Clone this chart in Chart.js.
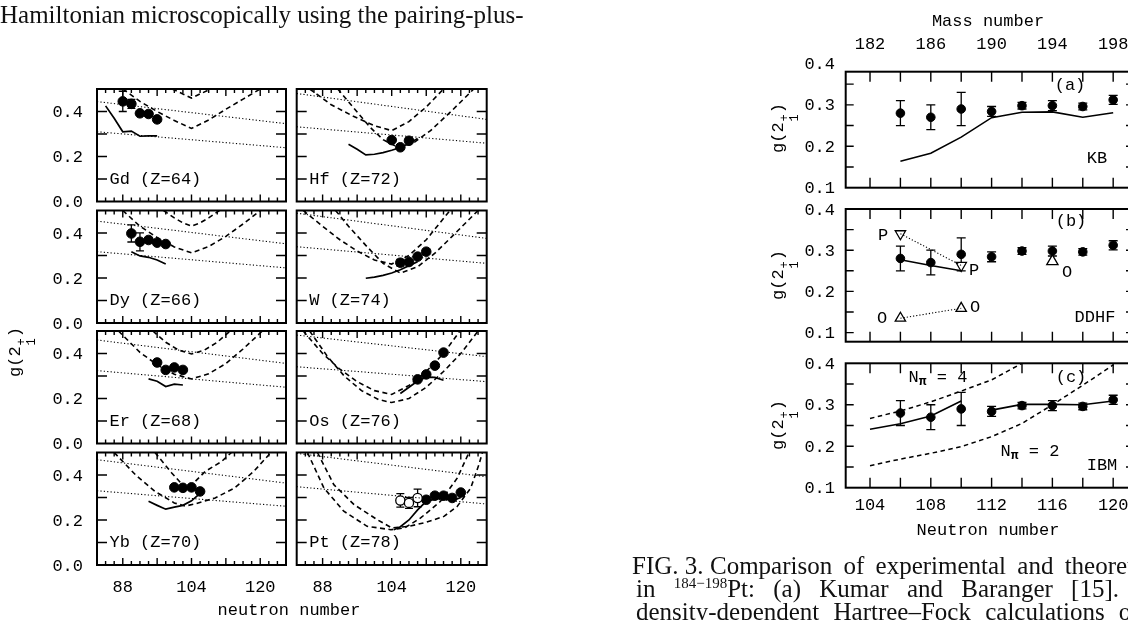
<!DOCTYPE html>
<html><head><meta charset="utf-8">
<script src="https://cdn.jsdelivr.net/npm/chart.js@4.4.1/dist/chart.umd.min.js"></script>
<style>
html,body{margin:0;padding:0;background:#fff;width:1128px;height:620px;overflow:hidden;position:relative}
canvas{position:absolute;left:0;top:0}
.t{position:absolute;font-family:"Liberation Mono",monospace;font-size:17px;color:#000;white-space:nowrap;line-height:17px;z-index:3}
.c{transform:translate(-50%,-50%)}
.ytl{transform:translate(-50%,-50%) rotate(-90deg)}
.ss{display:inline-flex;flex-direction:column;font-size:12px;line-height:10px;vertical-align:-5px;margin:0 1px}
.sf{position:absolute;font-family:"Liberation Serif","Times New Roman",serif;color:#111;white-space:nowrap;z-index:3;font-size:25px;line-height:25px}
sup.m{font-size:15px;vertical-align:9px;line-height:0}
</style></head><body>
<script>
const CW = 1160, CH = 620;

/* ---------- left figure: g(2+) vs neutron number, x 82..126, y 0..0.5 ---------- */
const leftXTicks = [84,86,88,90,92,94,96,98,100,102,104,106,108,110,112,114,116,118,120,122,124];
const leftXMajor = [88,96,104,112,120];
const leftXLabels = [88,104,120];
const leftYTicks = [0.1,0.2,0.3,0.4];
const leftYMajor = [0.2,0.4];
const leftYLabels = [0.0,0.2,0.4];

// Gd (Z=64)
const gdExpN = [88,90,92,94,96];
const gdExpG = [0.445,0.434,0.392,0.389,0.365];
const gdExpErr = [0.045,0.02,0,0,0.01];
const gdSolid = [[84,0.425],[86,0.37],[88,0.31],[90,0.313],[92,0.29],[94,0.292],[96,0.292]];
const gdDashA = [[88,0.5],[92,0.445],[96,0.4],[100,0.36],[104,0.325],[108,0.362],[112,0.41],[116,0.455],[120,0.5]];
const gdDashB = [[99.5,0.5],[102,0.478],[104,0.46],[106,0.478],[108.5,0.5]];
const gdDotU = [[82,0.444],[126,0.346]];
const gdDotL = [[82,0.31],[126,0.239]];
// Dy (Z=66)
const dyExpN = [90,92,94,96,98];
const dyExpG = [0.398,0.361,0.369,0.357,0.351];
const dyExpErr = [0.038,0.04,0,0,0];
const dySolid = [[90,0.317],[92,0.298],[94,0.292],[96,0.28],[98,0.262]];
const dyDashA = [[88,0.5],[92,0.43],[96,0.38],[100,0.338],[104,0.312],[108,0.34],[112,0.385],[116,0.44],[120,0.5]];
const dyDashB = [[97.5,0.5],[100,0.467],[102,0.445],[104,0.431],[106,0.445],[108,0.467],[110.5,0.5]];
const dyDotU = [[82,0.453],[126,0.352]];
const dyDotL = [[82,0.317],[126,0.245]];
// Er (Z=68)
const erExpN = [96,98,100,102];
const erExpG = [0.36,0.327,0.338,0.327];
const erExpErr = [0,0,0,0];
const erSolid = [[94,0.287],[96,0.277],[98,0.253],[100,0.264],[102,0.26]];
const erDashA = [[87,0.5],[92,0.405],[96,0.35],[100,0.308],[104,0.287],[108,0.31],[112,0.355],[116,0.42],[120.5,0.5]];
const erDashB = [[95,0.5],[98,0.45],[101,0.415],[104,0.398],[107,0.415],[110,0.45],[113,0.5]];
const erDotU = [[82,0.46],[126,0.356]];
const erDotL = [[82,0.324],[126,0.25]];
// Yb (Z=70)
const ybExpN = [100,102,104,106];
const ybExpG = [0.345,0.343,0.345,0.327];
const ybExpErr = [0,0,0,0];
const ybSolid = [[94,0.283],[96,0.265],[98,0.248],[100,0.257],[102,0.265],[104,0.285],[106,0.318]];
const ybDashA = [[86,0.5],[91,0.4],[95.5,0.327],[100,0.276],[102.5,0.262],[105,0.272],[109.5,0.298],[114,0.342],[118.5,0.416],[122.5,0.5]];
const ybDashB = [[95.5,0.5],[99.4,0.409],[101.5,0.365],[103,0.34],[104.8,0.37],[107.2,0.416],[111,0.46],[113.3,0.5]];
const ybDotU = [[82,0.468],[126,0.364]];
const ybDotL = [[82,0.33],[126,0.261]];
// Hf (Z=72)
const hfExpN = [104,106,108];
const hfExpG = [0.273,0.241,0.27];
const hfExpErr = [0,0,0];
const hfSolid = [[94,0.254],[96,0.232],[98,0.207],[100,0.21],[102,0.217],[104,0.228],[106,0.24],[108,0.258],[110,0.28]];
const hfDashA = [[85,0.5],[90,0.43],[95,0.38],[100,0.337],[104,0.315],[108,0.355],[112,0.42],[116,0.5]];
const hfDashB = [[91.5,0.5],[95,0.42],[99,0.33],[102,0.275],[105.5,0.24],[109,0.26],[113,0.315],[118,0.405],[123,0.5]];
const hfDotU = [[82,0.48],[126,0.365]];
const hfDotL = [[82,0.332],[126,0.259]];
// W (Z=74)
const wExpN = [106,108,110,112];
const wExpG = [0.268,0.271,0.295,0.317];
const wExpErr = [0.015,0.01,0,0];
const wSolid = [[98,0.199],[100,0.204],[102,0.212],[104,0.222],[106,0.237],[108,0.255],[110,0.272]];
const wDashA = [[83.5,0.5],[88,0.43],[92,0.37],[96,0.32],[100,0.28],[104,0.262],[108,0.3],[112,0.37],[117.5,0.5]];
const wDashB = [[91,0.5],[94,0.43],[98,0.345],[102,0.265],[106,0.222],[110,0.25],[114,0.31],[118,0.385],[124,0.5]];
const wDotU = [[82,0.488],[126,0.376]];
const wDotL = [[82,0.339],[126,0.265]];
// Os (Z=76)
const osExpN = [110,112,114,116];
const osExpG = [0.285,0.307,0.346,0.404];
const osExpErr = [0,0,0,0];
const osSolid = [[106,0.222],[108,0.25],[110,0.278],[112,0.295],[114,0.294],[116,0.281]];
const osDashA = [[83.5,0.5],[88,0.4],[92,0.33],[96,0.275],[100,0.235],[104,0.218],[108,0.258],[112,0.32],[116,0.4],[119.8,0.5]];
const osDashB = [[85,0.5],[89,0.39],[93,0.3],[97,0.235],[101,0.195],[104,0.182],[108,0.2],[112,0.25],[116,0.32],[120,0.4],[124,0.5]];
const osDotU = [[82,0.482],[126,0.386]];
const osDotL = [[82,0.341],[126,0.275]];
// Pt (Z=78)
const ptOpenN = [106,108,110];
const ptOpenG = [0.287,0.276,0.298];
const ptOpenErr = [0.03,0.024,0.039];
const ptExpN = [112,114,116,118,120];
const ptExpG = [0.29,0.308,0.308,0.298,0.322];
const ptExpErr = [0,0,0,0,0];
const ptSolid = [[104.5,0.157],[106,0.17],[108,0.2],[110,0.245],[112,0.283],[114,0.293],[116,0.297],[118,0.285],[120,0.3]];
const ptDashA = [[84.5,0.5],[88.3,0.342],[92.9,0.239],[98.3,0.172],[103.8,0.157],[107,0.165],[110.7,0.209],[115.3,0.283],[119.2,0.387],[121.9,0.5]];
const ptDashB = [[86.8,0.5],[90.6,0.357],[95.3,0.268],[100.7,0.201],[104,0.165],[108,0.172],[112,0.19],[116.1,0.216],[119.2,0.261],[122.3,0.342],[124.2,0.446],[125,0.5]];
const ptDotU = [[82,0.496],[126,0.392]];
const ptDotL = [[82,0.348],[126,0.271]];

/* ---------- right figure: 184-198Pt, x = neutron number ---------- */
const rightXTicks = [104,106,108,110,112,114,116,118,120];
const rightXLabels = [104,108,112,116,120];
const massLabels = [182,186,190,194,198];
const rightYTicks = [0.1,0.15,0.2,0.25,0.3,0.35,0.4];
const rightYLabels = [0.1,0.2,0.3,0.4];
const expN = [106,108,110,112,114,116,118,120];
const expG = [0.28,0.27,0.29,0.284,0.298,0.298,0.296,0.312];
const expErr = [0.03,0.03,0.04,0.012,0.008,0.012,0.008,0.011];
const kbG = [0.164,0.183,0.222,0.269,0.282,0.283,0.27,0.281];
const ddhfN = [106,108,110];
const ddhfG = [0.277,0.263,0.25];
const ddhfPN = [106,110];
const ddhfPG = [0.34,0.263];
const ddhfON = [106,110];
const ddhfOG = [0.135,0.159];
const ddhfO2N = [116];
const ddhfO2G = [0.273];
const ibmN1 = [104,106,108,110];
const ibmG1 = [0.241,0.254,0.273,0.309];
const ibmN2 = [112,114,116,118,120];
const ibmG2 = [0.287,0.301,0.301,0.3,0.309];
const np4N = [104,106,108,110,112,114];
const np4G = [0.267,0.285,0.307,0.333,0.36,0.4];
const np2N = [104,106,108,110,112,114,116,118,120];
const np2G = [0.153,0.169,0.183,0.199,0.223,0.255,0.3,0.347,0.396];

/* ---------- helpers ---------- */
const frameCfg = new Map();
const zip = (ns, gs) => ns.map((n, i) => ({x: n, y: gs[i]}));
const pairs = pts => pts.map(p => ({x: p[0], y: p[1]}));
function lineDs(data, dash, w) {
  return {data, borderColor:'#000', borderWidth:w, borderDash:dash, pointRadius:0, fill:false, tension:0, showLine:true};
}
function dotDs(data, errs, open, r, style, rot) {
  return {data, errs, showLine:false, pointRadius:r, pointStyle:style || 'circle', rotation:rot || 0,
    backgroundColor: open ? '#fff' : '#000', borderColor:'#000', borderWidth: open ? 1.3 : 1};
}

const framePlugin = {
  id: 'frame',
  beforeDatasetsDraw(chart) {
    const o = frameCfg.get(chart.canvas.id); if (!o) return;
    const {ctx, scales:{x, y}} = chart;
    ctx.save(); ctx.strokeStyle = '#000'; ctx.lineWidth = 1.3;
    chart.data.datasets.forEach(ds => {
      if (!ds.errs) return;
      ds.data.forEach((p, i) => {
        const e = ds.errs[i]; if (!e) return;
        const px = x.getPixelForValue(p.x), y1 = y.getPixelForValue(p.y - e), y2 = y.getPixelForValue(p.y + e);
        ctx.beginPath();
        ctx.moveTo(px, y1); ctx.lineTo(px, y2);
        ctx.moveTo(px - o.cap, y1); ctx.lineTo(px + o.cap, y1);
        ctx.moveTo(px - o.cap, y2); ctx.lineTo(px + o.cap, y2);
        ctx.stroke();
      });
    });
    ctx.restore();
  },
  afterDatasetsDraw(chart) {
    const o = frameCfg.get(chart.canvas.id); if (!o) return;
    const {ctx, chartArea:a, scales:{x, y}} = chart;
    ctx.save();
    ctx.strokeStyle = '#000'; ctx.lineWidth = 1.4;
    ctx.beginPath();
    o.xTicks.forEach(v => {
      if (v <= x.min || v >= x.max) return;
      const px = x.getPixelForValue(v);
      const len = o.xMajor && o.xMajor.includes(v) ? o.xMajorLen : o.xMinorLen;
      ctx.moveTo(px, a.top); ctx.lineTo(px, a.top + len);
      ctx.moveTo(px, a.bottom); ctx.lineTo(px, a.bottom - len);
    });
    o.yTicks.forEach(v => {
      if (v <= y.min + 1e-9 || v >= y.max - 1e-9) return;
      const py = y.getPixelForValue(v);
      const len = o.yMajor && o.yMajor.includes(v) ? o.yMajorLen : o.yMinorLen;
      ctx.moveTo(a.left, py); ctx.lineTo(a.left + len, py);
      ctx.moveTo(a.right, py); ctx.lineTo(a.right - len, py);
    });
    ctx.stroke();
    ctx.lineWidth = 2;
    ctx.strokeRect(a.left, a.top, a.right - a.left, a.bottom - a.top);
    ctx.fillStyle = '#000';
    ctx.font = "17px 'Liberation Mono', monospace";
    if (o.yLabels) {
      ctx.textAlign = 'right'; ctx.textBaseline = 'middle';
      o.yLabels.forEach(v => ctx.fillText(v.toFixed(1), a.left - o.yGap, y.getPixelForValue(v) + 1));
    }
    if (o.xLabels) {
      ctx.textAlign = 'center'; ctx.textBaseline = 'middle';
      o.xLabels.forEach(v => ctx.fillText(String(v), x.getPixelForValue(v), a.bottom + o.xGap));
    }
    if (o.topLabels) {
      ctx.textAlign = 'center'; ctx.textBaseline = 'middle';
      o.topAt.forEach((v, i) => ctx.fillText(String(o.topLabels[i]), x.getPixelForValue(v), a.top - o.topGap));
    }
    ctx.restore();
  }
};

function makeChart(id, rect, xr, yr, datasets, frame) {
  const c = document.createElement('canvas');
  c.id = id; c.width = CW; c.height = CH;
  c.style.width = CW + 'px'; c.style.height = CH + 'px';
  document.body.appendChild(c);
  frameCfg.set(id, frame);
  return new Chart(c, {
    type: 'line',
    data: {datasets},
    options: {
      responsive: false, animation: false, events: [], devicePixelRatio: 1,
      layout: {padding: {left: rect.l, top: rect.t, right: CW - rect.r, bottom: CH - rect.b}},
      scales: {
        x: {type: 'linear', min: xr[0], max: xr[1], display: false},
        y: {type: 'linear', min: yr[0], max: yr[1], display: false}
      },
      plugins: {legend: {display: false}, tooltip: {enabled: false}}
    },
    plugins: [framePlugin]
  });
}

/* ---------- left figure panels ---------- */
const leftCols = [{l: 97, r: 286}, {l: 296.7, r: 486.7}];
const leftRows = [{t: 89, b: 201.5}, {t: 210.5, b: 323}, {t: 331, b: 443.5}, {t: 452.5, b: 565}];
const leftPanels = [
  {name: 'Gd (Z=64)', col: 0, row: 0, expN: gdExpN, expG: gdExpG, expErr: gdExpErr, solid: gdSolid, dashA: gdDashA, dashB: gdDashB, dotU: gdDotU, dotL: gdDotL},
  {name: 'Dy (Z=66)', col: 0, row: 1, expN: dyExpN, expG: dyExpG, expErr: dyExpErr, solid: dySolid, dashA: dyDashA, dashB: dyDashB, dotU: dyDotU, dotL: dyDotL},
  {name: 'Er (Z=68)', col: 0, row: 2, expN: erExpN, expG: erExpG, expErr: erExpErr, solid: erSolid, dashA: erDashA, dashB: erDashB, dotU: erDotU, dotL: erDotL},
  {name: 'Yb (Z=70)', col: 0, row: 3, expN: ybExpN, expG: ybExpG, expErr: ybExpErr, solid: ybSolid, dashA: ybDashA, dashB: ybDashB, dotU: ybDotU, dotL: ybDotL},
  {name: 'Hf (Z=72)', col: 1, row: 0, expN: hfExpN, expG: hfExpG, expErr: hfExpErr, solid: hfSolid, dashA: hfDashA, dashB: hfDashB, dotU: hfDotU, dotL: hfDotL},
  {name: 'W (Z=74)', col: 1, row: 1, expN: wExpN, expG: wExpG, expErr: wExpErr, solid: wSolid, dashA: wDashA, dashB: wDashB, dotU: wDotU, dotL: wDotL},
  {name: 'Os (Z=76)', col: 1, row: 2, expN: osExpN, expG: osExpG, expErr: osExpErr, solid: osSolid, dashA: osDashA, dashB: osDashB, dotU: osDotU, dotL: osDotL},
  {name: 'Pt (Z=78)', col: 1, row: 3, expN: ptExpN, expG: ptExpG, expErr: ptExpErr, solid: ptSolid, dashA: ptDashA, dashB: ptDashB, dotU: ptDotU, dotL: ptDotL,
   openN: ptOpenN, openG: ptOpenG, openErr: ptOpenErr}
];
const labelDivs = [];
leftPanels.forEach((p, i) => {
  const rect = {l: leftCols[p.col].l, r: leftCols[p.col].r, t: leftRows[p.row].t, b: leftRows[p.row].b};
  const ds = [
    lineDs(pairs(p.dotU), [1.2, 2.2], 1.1),
    lineDs(pairs(p.dotL), [1.2, 2.2], 1.1),
    lineDs(pairs(p.dashA), [5, 3.5], 1.6),
    lineDs(pairs(p.dashB), [5, 3.5], 1.6),
    lineDs(pairs(p.solid), [], 1.7)
  ];
  if (p.openN) ds.push(dotDs(zip(p.openN, p.openG), p.openErr, true, 4.6));
  ds.push(dotDs(zip(p.expN, p.expG), p.expErr, false, 4.8));
  makeChart('L' + i, rect, [82, 126], [0, 0.5], ds, {
    xTicks: leftXTicks, xMajor: leftXMajor, xMajorLen: 7, xMinorLen: 4,
    yTicks: leftYTicks, yMajor: leftYMajor, yMajorLen: 10, yMinorLen: 10,
    yLabels: p.col === 0 ? leftYLabels : null, yGap: 14,
    xLabels: p.row === 3 ? leftXLabels : null, xGap: 22, cap: 4
  });
  labelDivs.push(`<div class="t" style="left:${rect.l + 12.5}px;top:${rect.b - 31}px">${p.name}</div>`);
});

/* ---------- right figure panels ---------- */
const rX = [102.4, 121.37];
const rL = 845.7, rR = 1134;
const expDs = () => dotDs(zip(expN, expG), expErr, false, 4.3);
const rightFrame = extra => Object.assign({
  xTicks: rightXTicks, xMajor: null, xMajorLen: 10, xMinorLen: 10,
  yTicks: rightYTicks, yMajor: null, yMajorLen: 8, yMinorLen: 8,
  yLabels: rightYLabels, yGap: 10.7, cap: 4.5
}, extra);
makeChart('Ra', {l: rL, r: rR, t: 71.7, b: 187.7}, rX, [0.1, 0.38], [
  lineDs(zip(expN, kbG), [], 1.6),
  expDs()
], rightFrame({topLabels: massLabels, topAt: rightXLabels, topGap: 27}));
makeChart('Rb', {l: rL, r: rR, t: 209, b: 341.7}, rX, [0.078, 0.4], [
  lineDs(zip(ddhfN, ddhfG), [], 1.6),
  lineDs(zip(ddhfPN, ddhfPG), [1.2, 2], 1.1),
  lineDs(zip(ddhfON, ddhfOG), [1.2, 2], 1.1),
  dotDs(zip(ddhfPN, ddhfPG), null, true, 6, 'triangle', 180),
  dotDs(zip(ddhfON, ddhfOG), null, true, 6, 'triangle', 0),
  dotDs(zip(ddhfO2N, ddhfO2G), null, true, 6.5, 'triangle', 0),
  expDs()
], rightFrame({}));
makeChart('Rc', {l: rL, r: rR, t: 363.3, b: 487.7}, rX, [0.1, 0.4], [
  lineDs(zip(np4N, np4G), [4.5, 3.5], 1.5),
  lineDs(zip(np2N, np2G), [4.5, 3.5], 1.5),
  lineDs(zip(ibmN1, ibmG1), [], 1.6),
  lineDs(zip(ibmN2, ibmG2), [], 1.6),
  expDs()
], rightFrame({xLabels: rightXLabels, xGap: 17.5}));

/* ---------- text ---------- */
const gLabel = 'g(2<span class="ss"><span>+</span><span>1</span></span>)';
const html = labelDivs.join('') + `
<div class="t ytl" style="left:22px;top:352px">${gLabel}</div>
<div class="t c" style="left:289px;top:610px">neutron number</div>
<div class="t c" style="left:988px;top:21px">Mass number</div>
<div class="t c" style="left:988px;top:530px">Neutron number</div>
<div class="t ytl" style="left:785px;top:128px">${gLabel}</div>
<div class="t ytl" style="left:785px;top:275px">${gLabel}</div>
<div class="t ytl" style="left:785px;top:425px">${gLabel}</div>
<div class="t c" style="left:1070px;top:85px">(a)</div>
<div class="t c" style="left:1097px;top:158px">KB</div>
<div class="t c" style="left:1071px;top:221px">(b)</div>
<div class="t c" style="left:1095px;top:317px">DDHF</div>
<div class="t c" style="left:883px;top:235px">P</div>
<div class="t c" style="left:974px;top:270px">P</div>
<div class="t c" style="left:882px;top:318px">O</div>
<div class="t c" style="left:975px;top:307px">O</div>
<div class="t c" style="left:1067px;top:272px">O</div>
<div class="t c" style="left:1071px;top:377px">(c)</div>
<div class="t c" style="left:1102px;top:465px">IBM</div>
<div class="t c" style="left:938px;top:377px">N<sub style="font-size:13px;font-weight:bold;vertical-align:-3px;line-height:0">π</sub> = 4</div>
<div class="t c" style="left:1030px;top:451px">N<sub style="font-size:13px;font-weight:bold;vertical-align:-3px;line-height:0">π</sub> = 2</div>
<div class="sf" style="left:0px;top:2px">Hamiltonian microscopically using the pairing-plus-</div>
<div class="sf" style="left:632px;top:553px">FIG. 3.</div>
<div class="sf" style="left:710px;top:553px;word-spacing:5px">Comparison of experimental and theoretical <i>g</i> factors</div>
<div class="sf" style="left:636px;top:576px;word-spacing:12px">in <sup class="m">184−198</sup>Pt: (a) Kumar and Baranger [15]. (b)</div>
<div class="sf" style="left:636px;top:599px;word-spacing:8px">density-dependent Hartree–Fock calculations of the</div>
`;
document.body.insertAdjacentHTML('beforeend', html);
</script>
</body></html>
